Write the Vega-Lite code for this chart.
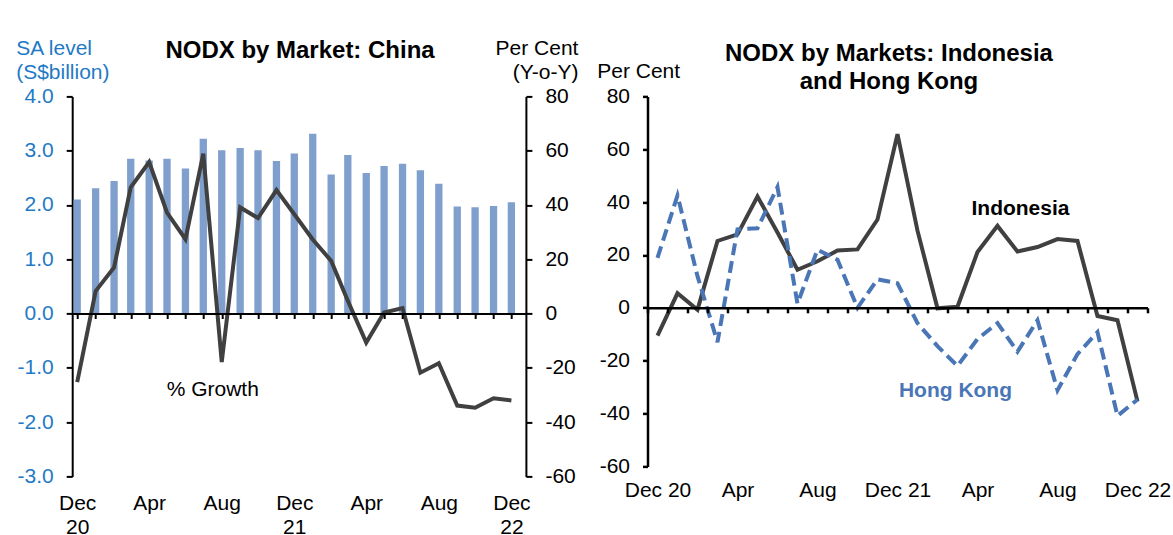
{
  "$schema": "https://vega.github.io/schema/vega-lite/v6.json",
  "autosize": {"type": "pad"},
  "padding": {"left": 15.2, "top": 37.4, "right": 0, "bottom": 0},
  "background": "white",
  "config": {
    "font": "Liberation Sans",
    "view": {"stroke": null},
    "axis": {"grid": false, "labelFont": "Liberation Sans", "titleFont": "Liberation Sans"},
    "title": {"font": "Liberation Sans"},
    "text": {"font": "Liberation Sans"}
  },
  "datasets": {
    "china": [
      {"month": "2020-12-01", "sa": 2.10, "growth": -25.3},
      {"month": "2021-01-01", "sa": 2.31, "growth": 8.3},
      {"month": "2021-02-01", "sa": 2.44, "growth": 17.0},
      {"month": "2021-03-01", "sa": 2.85, "growth": 46.5},
      {"month": "2021-04-01", "sa": 2.82, "growth": 55.8},
      {"month": "2021-05-01", "sa": 2.85, "growth": 37.2},
      {"month": "2021-06-01", "sa": 2.67, "growth": 27.4},
      {"month": "2021-07-01", "sa": 3.22, "growth": 58.9},
      {"month": "2021-08-01", "sa": 3.01, "growth": -17.9},
      {"month": "2021-09-01", "sa": 3.05, "growth": 39.1},
      {"month": "2021-10-01", "sa": 3.01, "growth": 35.2},
      {"month": "2021-11-01", "sa": 2.81, "growth": 45.5},
      {"month": "2021-12-01", "sa": 2.95, "growth": 36.6},
      {"month": "2022-01-01", "sa": 3.31, "growth": 27.3},
      {"month": "2022-02-01", "sa": 2.56, "growth": 19.4},
      {"month": "2022-03-01", "sa": 2.92, "growth": 4.7},
      {"month": "2022-04-01", "sa": 2.59, "growth": -10.7},
      {"month": "2022-05-01", "sa": 2.72, "growth": 0.4},
      {"month": "2022-06-01", "sa": 2.76, "growth": 2.0},
      {"month": "2022-07-01", "sa": 2.64, "growth": -21.8},
      {"month": "2022-08-01", "sa": 2.39, "growth": -18.3},
      {"month": "2022-09-01", "sa": 1.97, "growth": -33.9},
      {"month": "2022-10-01", "sa": 1.96, "growth": -34.7},
      {"month": "2022-11-01", "sa": 1.98, "growth": -31.2},
      {"month": "2022-12-01", "sa": 2.05, "growth": -32.0}
    ],
    "idhk": [
      {"m": "Dec 20", "indonesia": -10.5, "hongkong": 18.9},
      {"m": "Jan 21", "indonesia": 5.5, "hongkong": 42.5},
      {"m": "Feb 21", "indonesia": -0.7, "hongkong": 12.0},
      {"m": "Mar 21", "indonesia": 25.3, "hongkong": -13.0},
      {"m": "Apr 21", "indonesia": 27.8, "hongkong": 29.7},
      {"m": "May 21", "indonesia": 42.1, "hongkong": 30.1},
      {"m": "Jun 21", "indonesia": 28.5, "hongkong": 45.7},
      {"m": "Jul 21", "indonesia": 14.4, "hongkong": 1.6},
      {"m": "Aug 21", "indonesia": 17.6, "hongkong": 22.0},
      {"m": "Sep 21", "indonesia": 21.7, "hongkong": 18.2},
      {"m": "Oct 21", "indonesia": 22.1, "hongkong": 0.0},
      {"m": "Nov 21", "indonesia": 33.4, "hongkong": 10.8},
      {"m": "Dec 21", "indonesia": 65.7, "hongkong": 9.3},
      {"m": "Jan 22", "indonesia": 29.2, "hongkong": -5.8},
      {"m": "Feb 22", "indonesia": -0.2, "hongkong": -14.5},
      {"m": "Mar 22", "indonesia": 0.4, "hongkong": -22.0},
      {"m": "Apr 22", "indonesia": 21.1, "hongkong": -11.8},
      {"m": "May 22", "indonesia": 31.0, "hongkong": -5.8},
      {"m": "Jun 22", "indonesia": 21.3, "hongkong": -16.6},
      {"m": "Jul 22", "indonesia": 23.0, "hongkong": -4.7},
      {"m": "Aug 22", "indonesia": 26.0, "hongkong": -31.2},
      {"m": "Sep 22", "indonesia": 25.3, "hongkong": -17.5},
      {"m": "Oct 22", "indonesia": -3.1, "hongkong": -9.2},
      {"m": "Nov 22", "indonesia": -4.7, "hongkong": -40.9},
      {"m": "Dec 22", "indonesia": -35.4, "hongkong": -34.7}
    ]
  },
  "bounds": "flush",
  "spacing": 121.3,
  "hconcat": [
    {
      "width": 453.7,
      "height": 380,
      "data": {"name": "china"},
      "title": {"text": "NODX by Market: China", "fontSize": 24, "fontWeight": "bold", "color": "black", "frame": "group", "anchor": "middle", "baseline": "top", "offset": -24.9, "dx": 1},
      "encoding": {
        "x": {
          "field": "month",
          "type": "temporal",
          "scale": {"type": "utc", "domain": [{"year": 2020, "month": 12, "date": 1, "utc": true}, {"year": 2022, "month": 12, "date": 17, "utc": true}]},
          "axis": {
            "title": null,
            "orient": "bottom",
            "offset": -162.9,
            "tickCount": {"interval": "month", "step": 1},
            "labelExpr": "utcmonth(datum.value) % 4 == 3 ? (utcmonth(datum.value) == 11 ? ['Dec', utcFormat(datum.value, '%y')] : utcFormat(datum.value, '%b')) : ''",
            "labelOverlap": false,
            "labelFlush": false,
            "labelBaseline": "top",
            "labelPadding": 173.8,
            "labelLineHeight": 24,
            "labelFontSize": 21,
            "labelColor": "black",
            "tickSize": 5,
            "tickColor": "black",
            "tickWidth": 2,
            "domainColor": "black",
            "domainWidth": 2,
            "zindex": 1,
            "grid": false
          }
        }
      },
      "layer": [
        {
          "mark": {"type": "bar", "color": "#7F9FCD", "size": 7.3, "clip": true},
          "encoding": {
            "y": {
              "field": "sa",
              "type": "quantitative",
              "scale": {"domain": [-3, 4], "nice": false, "zero": false},
              "axis": {
                "orient": "left",
                "values": [-3, -2, -1, 0, 1, 2, 3, 4],
                "labelExpr": "datum.value < 0 ? '-' + format(-datum.value, '.1f') : format(datum.value, '.1f')",
                "labelColor": "#1F7AC6",
                "labelFontSize": 21,
                "labelPadding": 13,
                "tickSize": 6,
                "tickColor": "black",
                "tickWidth": 2,
                "domainColor": "black",
                "domainWidth": 2,
                "title": ["SA level", "(S$billion)"],
                "titleColor": "#1F7AC6",
                "titleFontSize": 21,
                "titleFontWeight": "normal",
                "titleAngle": 0,
                "titleAlign": "left",
                "titleBaseline": "top",
                "titleX": -56.5,
                "titleY": -58.6,
                "titleLineHeight": 24
              }
            }
          }
        },
        {
          "layer": [
            {
              "mark": {"type": "line", "color": "#404040", "strokeWidth": 4},
              "encoding": {
                "y": {
                  "field": "growth",
                  "type": "quantitative",
                  "scale": {"domain": [-60, 80], "nice": false},
                  "axis": {
                    "orient": "right",
                    "values": [-60, -40, -20, 0, 20, 40, 60, 80],
                    "labelExpr": "datum.value < 0 ? '-' + format(-datum.value, 'd') : format(datum.value, 'd')",
                    "labelColor": "black",
                    "labelFontSize": 21,
                    "labelPadding": 13,
                    "tickSize": 6,
                    "tickColor": "black",
                    "tickWidth": 2,
                    "domainColor": "black",
                    "domainWidth": 2,
                    "title": ["Per Cent", "(Y-o-Y)"],
                    "titleColor": "black",
                    "titleFontSize": 21,
                    "titleFontWeight": "normal",
                    "titleAngle": 0,
                    "titleAlign": "right",
                    "titleBaseline": "top",
                    "titleX": 52,
                    "titleY": -58.6,
                    "titleLineHeight": 24
                  }
                }
              }
            },
            {
              "transform": [
                {"window": [{"op": "row_number", "as": "r"}]},
                {"filter": "datum.r == 1"}
              ],
              "mark": {"type": "text", "fontSize": 21, "color": "black"},
              "encoding": {
                "x": {"datum": {"year": 2021, "month": 7, "date": 17, "utc": true}, "type": "temporal"},
                "y": {"datum": -28, "type": "quantitative"},
                "text": {"value": "% Growth"}
              }
            }
          ]
        }
      ],
      "resolve": {"scale": {"y": "independent"}, "axis": {"y": "independent"}}
    },
    {
      "width": 500,
      "height": 370,
      "data": {"name": "idhk"},
      "title": {"text": ["NODX by Markets: Indonesia", "and Hong Kong"], "fontSize": 24, "fontWeight": "bold", "color": "black", "frame": "group", "anchor": "middle", "baseline": "top", "offset": -32.9, "dx": -8.5, "lineHeight": 28},
      "encoding": {
        "x": {
          "field": "m",
          "type": "ordinal",
          "sort": null,
          "bandPosition": 0.5,
          "scale": {"type": "band", "paddingInner": 0, "paddingOuter": 0},
          "axis": {
            "title": null,
            "orient": "bottom",
            "offset": -158.6,
            "tickBand": "extent",
            "labelExpr": "indexof(['Dec 20','Apr 21','Aug 21','Dec 21','Apr 22','Aug 22','Dec 22'], datum.value) < 0 ? '' : (slice(datum.value, 0, 3) == 'Dec' ? datum.value : slice(datum.value, 0, 3))",
            "labelAngle": 0,
            "labelOverlap": false,
            "labelBaseline": "top",
            "labelPadding": 166.5,
            "labelFontSize": 21,
            "labelColor": "black",
            "tickSize": 5,
            "tickColor": "black",
            "tickWidth": 2.5,
            "domainColor": "black",
            "domainWidth": 2.5,
            "zindex": 1
          }
        }
      },
      "layer": [
        {
          "mark": {"type": "line", "color": "#404040", "strokeWidth": 4},
          "encoding": {
            "y": {
              "field": "indonesia",
              "type": "quantitative",
              "scale": {"domain": [-60, 80], "nice": false},
              "axis": {
                "orient": "left",
                "values": [-60, -40, -20, 0, 20, 40, 60, 80],
                "labelExpr": "datum.value < 0 ? '-' + format(-datum.value, 'd') : format(datum.value, 'd')",
                "labelColor": "black",
                "labelFontSize": 21,
                "labelPadding": 13,
                "tickSize": 5,
                "tickColor": "black",
                "tickWidth": 2.5,
                "domainColor": "black",
                "domainWidth": 2.5,
                "title": "Per Cent",
                "titleColor": "black",
                "titleFontSize": 21,
                "titleFontWeight": "normal",
                "titleAngle": 0,
                "titleAlign": "left",
                "titleBaseline": "top",
                "titleX": -50.7,
                "titleY": -35.6
              }
            }
          }
        },
        {
          "mark": {"type": "line", "color": "#4A76B6", "strokeWidth": 4, "strokeDash": [12, 6]},
          "encoding": {"y": {"field": "hongkong", "type": "quantitative"}}
        },
        {
          "data": {"values": [{"label": "Indonesia"}]},
          "mark": {"type": "text", "fontSize": 21, "fontWeight": "bold", "color": "black", "dx": 3},
          "encoding": {
            "x": {"datum": "Jun 22"},
            "y": {"datum": 37.3, "type": "quantitative"},
            "text": {"field": "label"}
          }
        },
        {
          "data": {"values": [{"label": "Hong Kong"}]},
          "mark": {"type": "text", "fontSize": 21, "fontWeight": "bold", "color": "#4A76B6", "dx": -2},
          "encoding": {
            "x": {"datum": "Mar 22"},
            "y": {"datum": -31.3, "type": "quantitative"},
            "text": {"field": "label"}
          }
        }
      ]
    }
  ]
}
